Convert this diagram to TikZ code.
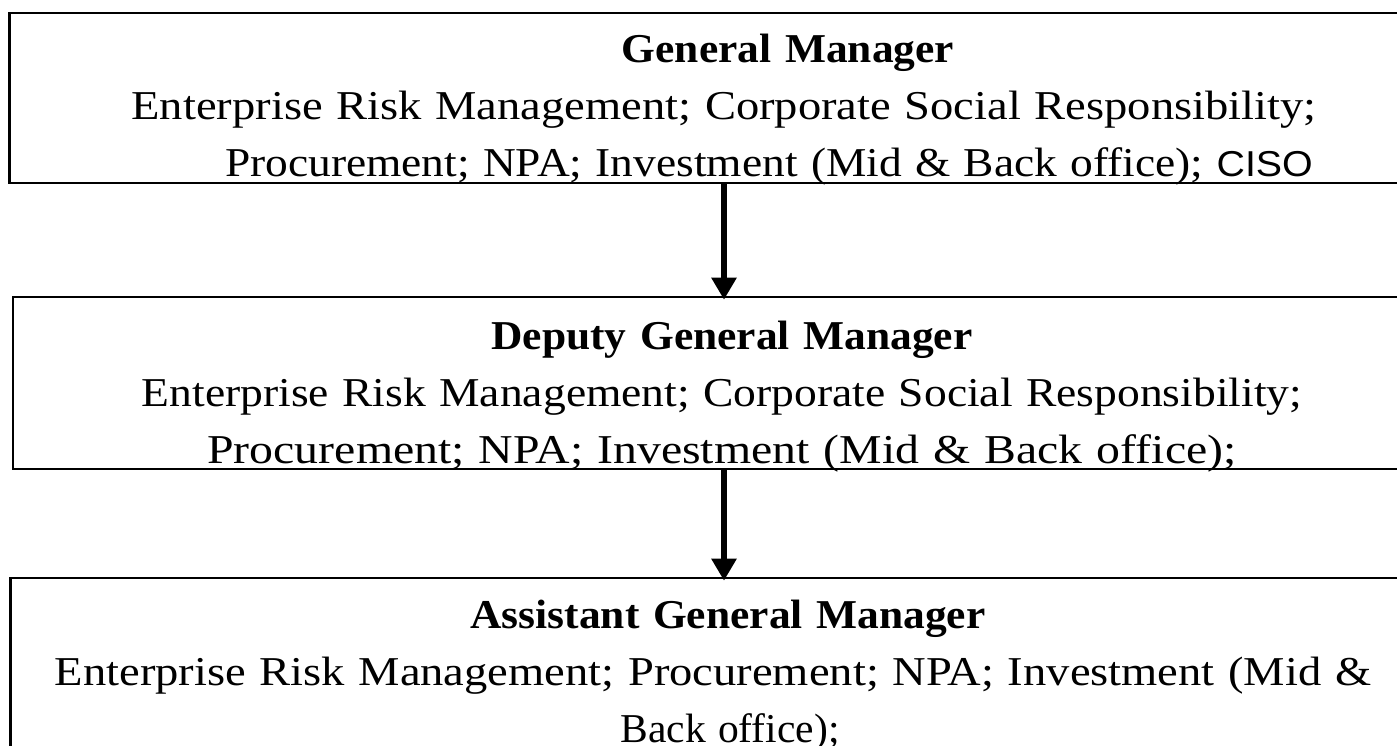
\documentclass[tikz,border=0pt]{standalone}
\usepackage{graphicx}
\usepackage{fontspec}
\setmainfont{Liberation Serif}[FakeStretch=1.135]
\newfontfamily\headfont{Liberation Serif}[FakeStretch=1.06]
\newfontfamily\cisofont{Liberation Sans}[FakeStretch=1.12]
\newcommand{\boxhead}[1]{{\headfont\bfseries #1}}
\newcommand{\squeeze}[2]{\scalebox{#1}[1]{#2}}
\usetikzlibrary{arrows.meta, positioning}
\tikzstyle{orgbox} = [rectangle, draw=black, line width=1.3pt, minimum height=86pt]
\tikzstyle{boxtext} = [align=center, text width=690pt, inner sep=0pt, font=\fontsize{20.5}{28.5}\selectfont]
\tikzstyle{arrow} = [line width=3pt, -{Triangle[width=12pt,length=11pt]}, shorten >=-2pt]

\begin{document}
\begin{tikzpicture}[x=0.5pt, y=-0.5pt]
	\useasboundingbox (0,0) rectangle (1397,745);
	\clip (0,0) rectangle (1397,745);
	\node (GM) [orgbox, minimum width=714.5pt, minimum height=85pt] at (724,98) {};
	\node (DGM) [orgbox, minimum width=711pt, below = 55.7pt of GM] {};
	\node (AGM) [orgbox, minimum width=713.5pt, below = 53.2pt of DGM] {};
	\node (GMtext) [boxtext, below = 11pt of GM.north] {\hspace*{64pt}\boxhead{General Manager}\\
		Enterprise Risk Management; Corporate Social Responsibility;\\
		\hspace*{45pt}\squeeze{0.976}{Procurement; NPA; Investment (Mid \& Back office); {\cisofont\fontsize{18}{28.5}\selectfont CISO}}};
	\node (DGMtext) [boxtext, below = 12.5pt of DGM.north, xshift=-1pt] {\hspace*{10pt}\boxhead{Deputy General Manager}\\
		\squeeze{0.979}{Enterprise Risk Management; Corporate Social Responsibility;}\\
		\squeeze{1.027}{Procurement; NPA; Investment (Mid \& Back office);}};
	\node (AGMtext) [boxtext, below = 11.5pt of AGM.north] {\hspace*{4pt}\boxhead{Assistant General Manager}\\
		\hspace*{-11pt}Enterprise Risk Management; Procurement; NPA; Investment (Mid \&\\
		\hspace*{6pt}\squeeze{0.893}{Back office);}};
	\draw [arrow] (GM.south) -- (DGM.north);
	\draw [arrow] (DGM.south) -- (AGM.north);
\end{tikzpicture}
\end{document}
